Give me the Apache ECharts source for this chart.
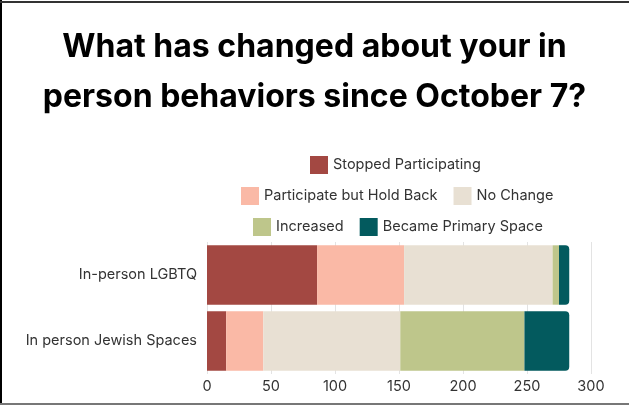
<!DOCTYPE html>
<html>
<head>
<meta charset="utf-8">
<script src="https://cdn.jsdelivr.net/npm/echarts@6/dist/echarts.min.js"></script>
<style>
  html, body { margin: 0; padding: 0; background: #fff; }
  #wrap { position: relative; width: 629px; height: 405px; overflow: hidden; }
  #chart { position: absolute; left: 0; top: 0; width: 629px; height: 405px; }
  .b { position: absolute; pointer-events: none; }
</style>
</head>
<body>
<div id="wrap">
  <div id="chart"></div>
  <div class="b" style="left:0;top:0;width:2px;height:405px;background:#000;"></div>
  <div class="b" style="left:0;top:1px;width:629px;height:2px;background:#333;"></div>
  <div class="b" style="left:0;top:403px;width:629px;height:2px;background:#777;"></div>
</div>
<script>
const categories = ['In-person LGBTQ', 'In person Jewish Spaces'];
const seriesNames = ['Stopped Participating', 'Participate but Hold Back', 'No Change', 'Increased', 'Became Primary Space'];
const stopped = [86, 15];
const holdBack = [68, 29];
const noChange = [116, 107];
const increased = [5, 97];
const primary = [8, 35];
const xTicks = [0, 50, 100, 150, 200, 250, 300];

const values = [stopped, holdBack, noChange, increased, primary];
const colors = ['#a34842', '#fab9a6', '#e8e0d3', '#bec68b', '#035a5e'];
const font = 'Inter, "Noto Sans", sans-serif';

const chart = echarts.init(document.getElementById('chart'));
const legendBase = {
  orient: 'horizontal', icon: 'rect', itemWidth: 18, itemHeight: 18, itemGap: 16, padding: 0,
  textStyle: { fontSize: 14.5, color: '#333', fontFamily: font }
};
chart.setOption({
  animation: false,
  backgroundColor: '#fff',
  title: {
    text: 'What has changed about your in\nperson behaviors since October 7?',
    left: 'center', top: 17,
    textStyle: { fontSize: 32, fontWeight: 700, color: '#000', fontFamily: font, lineHeight: 50 }
  },
  legend: [
    Object.assign({}, legendBase, { left: 310, top: 156, data: [seriesNames[0]] }),
    Object.assign({}, legendBase, { left: 241, top: 187, data: [seriesNames[1], seriesNames[2]] }),
    Object.assign({}, legendBase, { left: 253, top: 218, data: [seriesNames[3], seriesNames[4]] })
  ],
  grid: { left: 207, right: 38, top: 242, height: 132, containLabel: false },
  xAxis: {
    type: 'value', min: xTicks[0], max: xTicks[xTicks.length - 1], interval: 50,
    axisLine: { show: false }, axisTick: { show: false },
    splitLine: { show: true, lineStyle: { color: '#e3e3e3', width: 1 } },
    axisLabel: { fontSize: 14.5, color: '#333', fontFamily: font, margin: 5 }
  },
  yAxis: {
    type: 'category', data: categories, inverse: true,
    axisLine: { show: false }, axisTick: { show: false },
    axisLabel: { fontSize: 14.5, color: '#333', fontFamily: font, margin: 10 }
  },
  series: seriesNames.map((name, i) => ({
    name, type: 'bar', stack: 'total', data: values[i], barCategoryGap: '10%',
    itemStyle: { color: colors[i], borderRadius: i === seriesNames.length - 1 ? [0, 4, 4, 0] : 0 }
  }))
});
</script>
</body>
</html>
